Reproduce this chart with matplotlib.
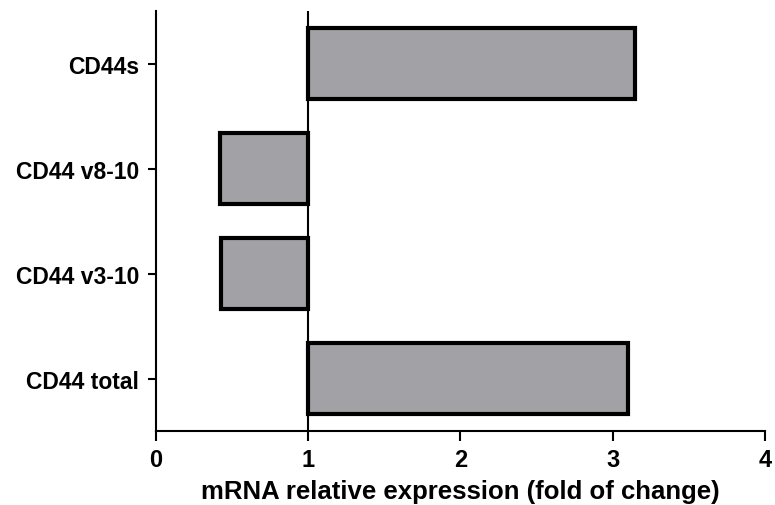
import matplotlib
matplotlib.use("Agg")
import matplotlib.pyplot as plt

# data
genes = ["CD44 total", "CD44 v3-10", "CD44 v8-10", "CD44s"]
fold = [3.10, 0.43, 0.42, 3.15]
baseline = 1.0

plt.rcParams["font.family"] = ["Liberation Sans", "DejaVu Sans"]
plt.rcParams["font.weight"] = "bold"

fig = plt.figure(figsize=(7.75, 5.06), dpi=100)
ax = fig.add_axes([0.201, 0.146, 0.786, 0.830])

ypos = list(range(len(genes)))
ax.barh(ypos, [f - baseline for f in fold], left=baseline, height=0.67,
        color="#a2a1a6", edgecolor="black", linewidth=3, zorder=2)
ax.axvline(baseline, color="black", linewidth=1.5, zorder=3)

ax.set_xlim(0, 4)
ax.set_ylim(-0.5, 3.5)
ax.set_xticks([0, 1, 2, 3, 4])
ax.set_yticks(ypos)
ax.set_yticklabels(genes)

ax.spines["top"].set_visible(False)
ax.spines["right"].set_visible(False)
ax.spines["left"].set_linewidth(1.5)
ax.spines["bottom"].set_linewidth(1.5)
ax.tick_params(axis="x", length=7, width=1.5, labelsize=17, pad=5)
ax.tick_params(axis="y", length=6, width=1.5, labelsize=16.5, pad=6)
for lab in ax.get_xticklabels() + ax.get_yticklabels():
    lab.set_fontweight("bold")

ax.set_xlabel("mRNA relative expression (fold of change)", fontsize=18.5,
              fontweight="bold", labelpad=6)

fig.savefig("out.png", dpi=100)
